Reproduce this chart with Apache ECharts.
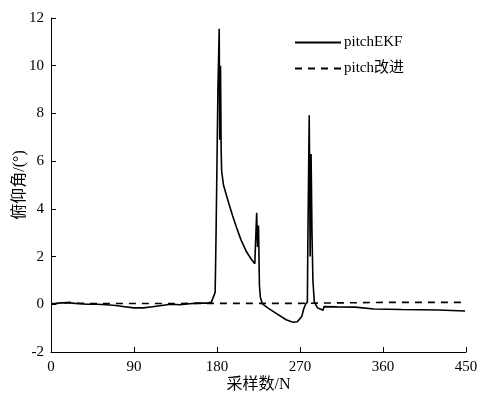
<!DOCTYPE html>
<html><head><meta charset="utf-8">
<script src="https://cdn.jsdelivr.net/npm/echarts@6/dist/echarts.min.js"></script>
<style>html,body{margin:0;padding:0;background:#fff}#c{width:480px;height:397px}</style>
</head><body><div id="c"></div>
<script>
const xTicks = [0, 90, 180, 270, 360, 450];
const yTicks = [-2, 0, 2, 4, 6, 8, 10, 12];
const seriesNames = ['pitchEKF', 'pitch改进'];
const pitchEKF = [
[0,0.0],[5,0.02],[10,0.06],[20,0.06],[30,0.02],[40,0.0],[50,0.0],[60,-0.02],[70,-0.05],[80,-0.1],[90,-0.15],[100,-0.15],[110,-0.1],[120,-0.05],[130,0.0],[140,-0.02],[150,0.02],[160,0.05],[170,0.05],[174,0.1],[176,0.3],[178,0.5],[179,3],[180,6],[181,9],[182.4,11.55],[183,6.9],[183.8,10.0],[184.5,6.5],[185,5.6],[187,5.0],[190,4.6],[193,4.2],[197,3.7],[201,3.24],[206,2.7],[212,2.2],[217,1.9],[221,1.7],[223,3.84],[224,2.4],[225,3.3],[226,0.8],[227,0.3],[229,0.03],[235,-0.15],[245,-0.4],[255,-0.65],[260,-0.72],[263,-0.75],[267,-0.73],[270,-0.6],[272,-0.5],[274,-0.2],[276,0.0],[278,0.1],[278.5,2.55],[280,7.92],[281,2.0],[282,6.3],[283,3.0],[284,1.0],[285.5,0.1],[287,0.08],[289,-0.15],[292,-0.2],[295,-0.25],[296,-0.1],[298,-0.08],[310,-0.11],[330,-0.12],[350,-0.2],[380,-0.22],[420,-0.24],[449,-0.28]
];
const pitchImproved = [
[0,0.02],[10,0.05],[20,0.08],[30,0.05],[40,0.03],[90,0.03],[180,0.04],[270,0.04],[360,0.08],[449,0.08]
];
const chart = echarts.init(document.getElementById('c'));
const fontSerif = '"Liberation Serif","Noto Sans CJK SC",serif';
chart.setOption({
  animation: false,
  backgroundColor: '#fff',
  grid: {left: 51, right: 14, top: 18, bottom: 45, containLabel: false, outerBoundsMode: 'none'},
  legend: {
    orient: 'vertical', left: 289, top: 30, itemWidth: 46, itemHeight: 10, itemGap: 11,
    data: seriesNames,
    itemStyle: {opacity: 0},
    textStyle: {fontFamily: fontSerif, fontSize: 15, color: '#000', padding: [0,0,0,-2]}
  },
  xAxis: {
    type: 'value', min: 0, max: 450, interval: 90,
    name: '采样数/N', nameLocation: 'middle', nameGap: 25, nameMoveOverlap: false,
    nameTextStyle: {fontFamily: fontSerif, fontSize: 16, color: '#000'},
    axisLine: {show: true, onZero: false, lineStyle: {color: '#000', width: 1}},
    axisTick: {show: true, inside: true, length: 5, lineStyle: {color: '#000'}},
    axisLabel: {fontFamily: fontSerif, fontSize: 15, color: '#000', margin: 8,
      formatter: v => xTicks.includes(v) ? String(v) : ''},
    splitLine: {show: false}
  },
  yAxis: {
    type: 'value', min: -2, max: 12, interval: 2,
    name: '俯仰角/(°)', nameLocation: 'middle', nameGap: 23, nameRotate: 90, nameMoveOverlap: false,
    nameTextStyle: {fontFamily: fontSerif, fontSize: 16, color: '#000'},
    axisLine: {show: true, onZero: false, lineStyle: {color: '#000', width: 1}},
    axisTick: {show: true, inside: true, length: 5, lineStyle: {color: '#000'}},
    axisLabel: {fontFamily: fontSerif, fontSize: 15, color: '#000', margin: 7,
      formatter: v => yTicks.includes(v) ? String(v) : ''},
    splitLine: {show: false}
  },
  series: [
    {name: seriesNames[0], type: 'line', data: pitchEKF, symbol: 'none', z: 3,
      lineStyle: {color: '#000', width: 1.6}, itemStyle: {color: '#000'}},
    {name: seriesNames[1], type: 'line', data: pitchImproved, symbol: 'none', z: 2,
      lineStyle: {color: '#000', width: 1.6, type: [7,6]}, itemStyle: {color: '#000'}}
  ]
});
</script></body></html>
